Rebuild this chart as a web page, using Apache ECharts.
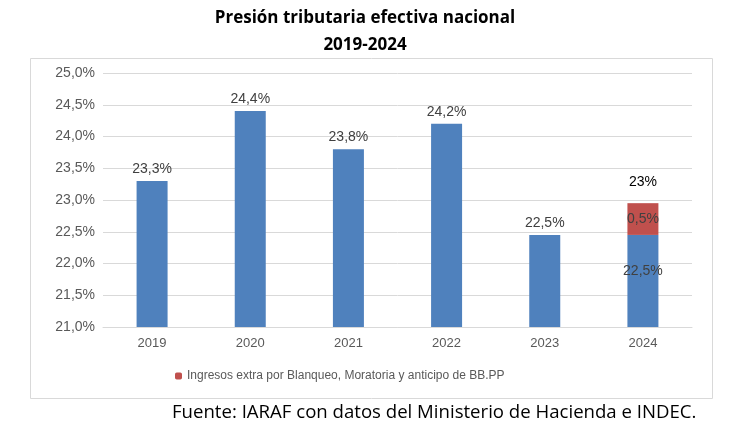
<!DOCTYPE html>
<html><head><meta charset="utf-8">
<script src="https://cdn.jsdelivr.net/npm/echarts@6/dist/echarts.min.js"></script>
<style>html,body{margin:0;padding:0;background:#fff}#c{width:730px;height:434px}</style>
</head><body><div id="c"></div>
<script>
var years = ['2019','2020','2021','2022','2023','2024'];
var baseValues = [23.3, 24.4, 23.8, 24.2, 22.45, 22.45];
var baseLabels = ['23,3%','24,4%','23,8%','24,2%','22,5%','22,5%'];
var baseLabelInside = [false, false, false, false, false, true];
var extraValues = [null, null, null, null, null, 0.5];
var extraLabels = ['', '', '', '', '', '0,5%'];
var totalLabels = ['', '', '', '', '', '23%'];
var extraName = 'Ingresos extra por Blanqueo, Moratoria y anticipo de BB.PP';

var font = 'Liberation Sans, Arial, sans-serif';
var baseData = baseValues.map(function (v, i) {
  return baseLabelInside[i]
    ? { value: v, label: { position: 'inside', offset: [0, -10] } }
    : { value: v, label: { position: 'top', distance: 5 } };
});

var chart = echarts.init(document.getElementById('c'));
chart.setOption({
  animation: false,
  title: {
    text: 'Presión tributaria efectiva nacional\n2019-2024',
    left: 'center', top: 0,
    textStyle: { fontFamily: 'Open Sans, sans-serif', fontWeight: 'bold', fontSize: 17, color: '#000', lineHeight: 27 }
  },
  graphic: [
    { type: 'rect', shape: { x: 30.5, y: 58.5, width: 682, height: 340 }, style: { fill: 'none', stroke: '#d9d9d9', lineWidth: 1 }, z: -1 },
    { type: 'text', left: 172, top: 403, style: { text: 'Fuente: IARAF con datos del Ministerio de Hacienda e INDEC.', font: '18.6px "Open Sans", sans-serif', fill: '#000' } }
  ],
  legend: {
    data: [extraName], bottom: 47, left: 170, itemWidth: 7, itemHeight: 7, itemGap: 4,
    textStyle: { fontFamily: font, fontSize: 12, color: '#595959' }
  },
  grid: { left: 103, right: 38, top: 73, bottom: 107 },
  xAxis: {
    type: 'category', data: years,
    axisLine: { lineStyle: { color: '#d9d9d9' } }, axisTick: { show: false },
    axisLabel: { fontFamily: font, fontSize: 13, color: '#595959', margin: 10 }
  },
  yAxis: {
    type: 'value', min: 21, max: 25, interval: 0.5,
    axisLine: { show: false }, axisTick: { show: false },
    splitLine: { lineStyle: { color: '#d9d9d9' } },
    axisLabel: { fontFamily: font, fontSize: 14, color: '#595959', margin: 8,
      formatter: function (v) { return v.toFixed(1).replace('.', ',') + '%'; } }
  },
  series: [
    { name: 'Base', type: 'bar', stack: 'a', barWidth: 31, data: baseData,
      itemStyle: { color: '#4f81bd' },
      label: { show: true, fontFamily: font, fontSize: 14, color: '#404040',
        formatter: function (p) { return baseLabels[p.dataIndex]; } }
    },
    { name: extraName, type: 'bar', stack: 'a', barWidth: 31, data: extraValues,
      itemStyle: { color: '#c0504d' },
      label: { show: true, position: 'inside', fontFamily: font, fontSize: 14, color: '#404040',
        formatter: function (p) { return extraLabels[p.dataIndex]; } }
    },
    { name: 'Total', type: 'bar', stack: 'a', barWidth: 31,
      data: [null, null, null, null, null, 0],
      itemStyle: { color: 'transparent' },
      label: { show: true, position: 'top', distance: 14, fontFamily: font, fontSize: 14, color: '#000',
        formatter: function (p) { return totalLabels[p.dataIndex]; } }
    }
  ]
});
</script></body></html>
